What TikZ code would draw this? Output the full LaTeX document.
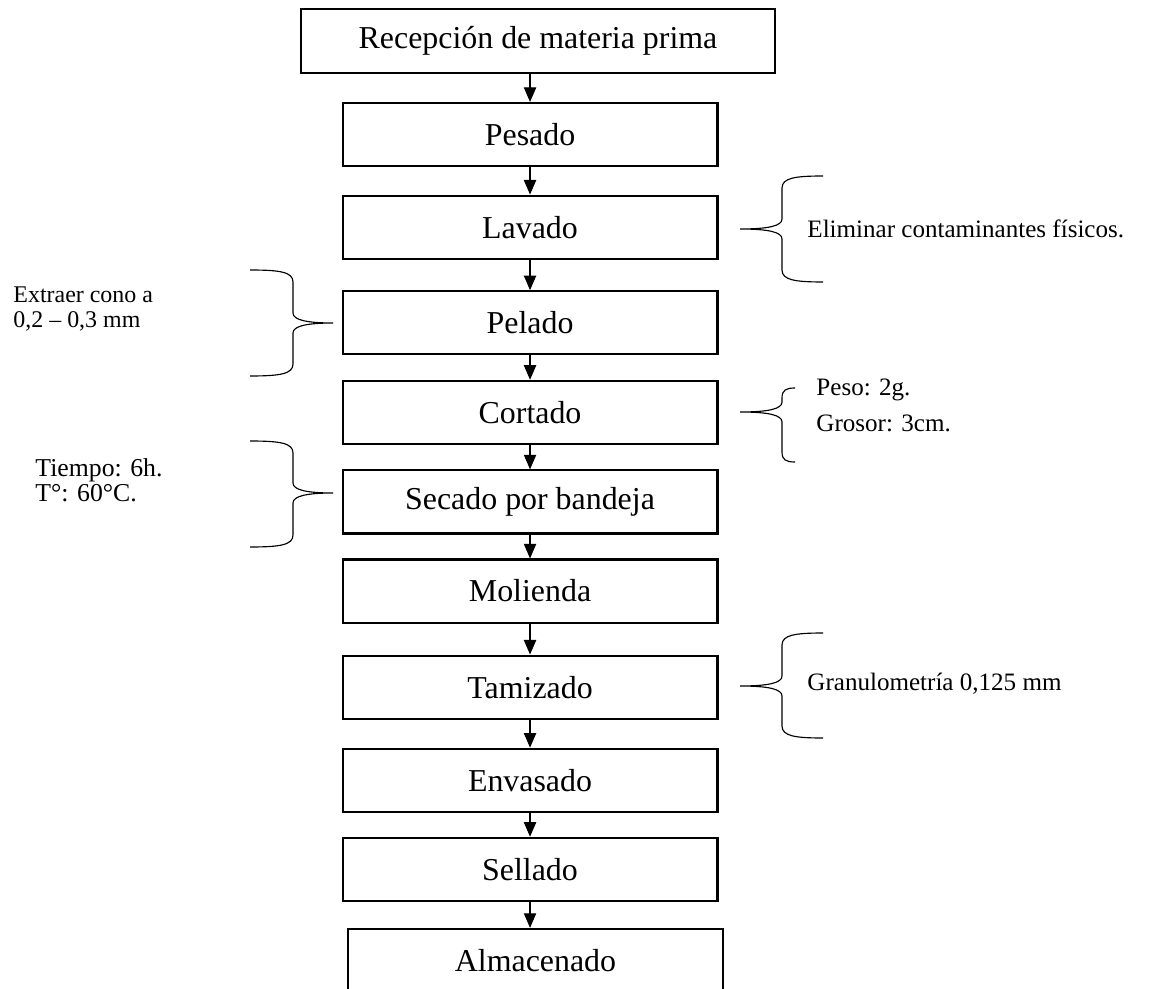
\documentclass[tikz,border=0pt]{standalone}
\usepackage{fontspec}
\setmainfont{Liberation Serif}
\usetikzlibrary{positioning,arrows.meta}

\begin{document}
\begin{tikzpicture}[x=0.439pt,y=-0.439pt,>={Triangle[width=5.4pt,length=6.4pt]},node distance=11.64pt,
  proc/.style={draw,line width=0.9pt,minimum width=164.6pt,minimum height=27.7pt,inner sep=0pt,font=\fontsize{14}{16}\selectfont},
  note/.style={inner sep=0pt,align=left,font=\fontsize{11}{11}\selectfont},
  brace/.style={line width=0.5pt}]

\useasboundingbox (0,0) rectangle (1163,989);

\node[proc,minimum width=208pt,minimum height=28.1pt] (rec) at (538,41) {Recepción de materia prima};
\node[proc] (pes) [below=12.27pt of rec,xshift=-3.5pt] {Pesado};
\node[proc] (lav) [below=12.05pt of pes] {Lavado};
\node[proc] (pel) [below=13.37pt of lav] {Pelado};
\node[proc] (cor) [below=10.73pt of pel] {Cortado};
\node[proc] (sec) [below=10.73pt of cor] {Secado por bandeja};
\node[proc] (mol) [below=10.51pt of sec] {Molienda};
\node[proc] (tam) [below=13.59pt of mol] {Tamizado};
\node[proc] (env) [below=12.27pt of tam] {Envasado};
\node[proc] (sel) [below=10.51pt of env] {Sellado};
\node[proc] (alm) [below=11.39pt of sel,xshift=2.4pt] {Almacenado};

\path[->,line width=0.5pt]
	(rec.south -| pes.north) edge (pes.north)
	(pes) edge (lav)
	(lav) edge (pel)
	(pel) edge (cor)
	(cor) edge (sec)
	(sec) edge (mol)
	(mol) edge (tam)
	(tam) edge (env)
	(env) edge (sel)
	(sel.south) edge (sel.south |- alm.north);

% notes
\node[note,anchor=west] (elim) at (807,229) {Eliminar contaminantes físicos.};
\node[note,anchor=west,font=\fontsize{10.5}{11}\selectfont] (extr) at (13,309) {Extraer cono a\\0,2 – 0,3 mm};
\node[note,anchor=west,font=\fontsize{11}{15.8}\selectfont] (peso) at (816,405) {Peso: 2g.\\Grosor: 3cm.};
\node[note,anchor=west,font=\fontsize{11.3}{11}\selectfont] (tiem) at (35,480) {Tiempo: 6h.\\T°: 60°C.};
\node[note,anchor=west] (gran) at (807,684) {Granulometría 0,125 mm};

% braces
\draw[brace] (823,176) .. controls (795,176) and (782,178) .. (782,188) -- (782,219) .. controls (782,226) and (768,229) .. (740,229)
	.. controls (768,229) and (782,232) .. (782,239) -- (782,270) .. controls (782,280) and (795,282) .. (823,282);
\draw[brace] (795,388) .. controls (786,388) and (782,390) .. (782,398) -- (782,402) .. controls (782,409) and (768,412) .. (740,412)
	.. controls (768,412) and (782,415) .. (782,422) -- (782,452) .. controls (782,460) and (786,462) .. (795,462);
\draw[brace] (823,633) .. controls (795,633) and (782,635) .. (782,645) -- (782,676) .. controls (782,683) and (768,686) .. (740,686)
	.. controls (768,686) and (782,689) .. (782,696) -- (782,726) .. controls (782,736) and (795,738) .. (823,738);
\draw[brace] (250,270) .. controls (280,270) and (293,272) .. (293,282) -- (293,313) .. controls (293,320) and (307,323) .. (333,323)
	.. controls (307,323) and (293,326) .. (293,333) -- (293,364) .. controls (293,374) and (280,376) .. (250,376);
\draw[brace] (250,441) .. controls (280,441) and (293,443) .. (293,453) -- (293,483) .. controls (293,490) and (307,493) .. (333,493)
	.. controls (307,493) and (293,496) .. (293,503) -- (293,535) .. controls (293,545) and (280,547) .. (250,547);
\end{tikzpicture}
\end{document}
